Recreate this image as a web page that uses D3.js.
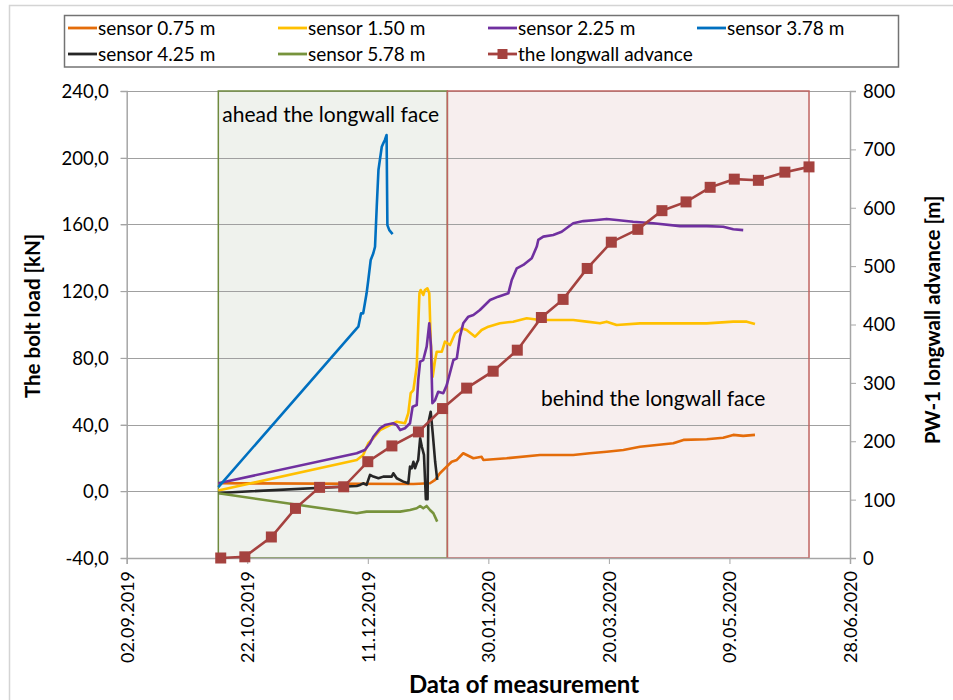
<!DOCTYPE html>
<html>
<head>
<meta charset="utf-8">
<script src="https://cdn.jsdelivr.net/npm/d3@7"></script>
<style>
  html, body { margin: 0; padding: 0; background: #fff; }
  svg { display: block; font-family: Lato, "Open Sans", sans-serif; }
</style>
</head>
<body>
<svg id="chart" width="953" height="700"></svg>
<script>
// ---------------- DATA ----------------
const xTickLabels = ["2019-09-02", "2019-10-22", "2019-12-11", "2020-01-30", "2020-03-20", "2020-05-09", "2020-06-28"];
const yLeftTicks = [-40, 0, 40, 80, 120, 160, 200, 240];
const yRightTicks = [0, 100, 200, 300, 400, 500, 600, 700, 800];

const seriesNames = ["sensor 0.75 m", "sensor 1.50 m", "sensor 2.25 m", "sensor 3.78 m", "sensor 4.25 m", "sensor 5.78 m"];
const seriesColors = ["#E46C0A", "#FFC000", "#7030A0", "#0070C0", "#262626", "#77933C"];

const sensor075 = [
  ["2019-10-10 00:00", 4.8], ["2019-12-29 22:00", 4.4], ["2020-01-05 19:00", 4.8], ["2020-01-07 22:00", 6.8],
  ["2020-01-09 22:00", 10.8], ["2020-01-12 17:00", 14.8], ["2020-01-14 19:00", 17.7], ["2020-01-16 22:00", 18.8],
  ["2020-01-19 14:00", 22.8], ["2020-01-23 19:00", 19.8], ["2020-01-27 05:00", 20.7], ["2020-01-27 22:00", 18.8],
  ["2020-02-06 14:00", 19.8], ["2020-02-20 10:00", 21.8], ["2020-03-05 05:00", 21.8], ["2020-03-12 02:00", 22.8],
  ["2020-03-19 02:00", 23.7], ["2020-03-26 00:00", 24.8], ["2020-04-01 22:00", 26.7], ["2020-04-08 19:00", 27.8],
  ["2020-04-15 17:00", 28.8], ["2020-04-19 22:00", 30.8], ["2020-04-29 14:00", 31.2], ["2020-05-06 10:00", 32.1],
  ["2020-05-10 14:00", 33.8], ["2020-05-14 17:00", 33.2], ["2020-05-19 14:00", 33.8]
];
const sensor150 = [
  ["2019-10-10 00:00", 0.5], ["2019-12-06 10:00", 18.8], ["2019-12-09 02:00", 21.8], ["2019-12-11 05:00", 28.8],
  ["2019-12-13 07:00", 31.8], ["2019-12-16 02:00", 36.7], ["2019-12-18 19:00", 38.7], ["2019-12-23 00:00", 41.7],
  ["2019-12-26 10:00", 40.8], ["2019-12-27 19:00", 46.8], ["2019-12-28 19:00", 58.8], ["2019-12-29 22:00", 60.7],
  ["2019-12-31 07:00", 74.7], ["2020-01-01 10:00", 118.7], ["2020-01-01 22:00", 120.7], ["2020-01-03 00:00", 117.7],
  ["2020-01-03 17:00", 120.7], ["2020-01-04 17:00", 121.7], ["2020-01-05 12:00", 118.7], ["2020-01-06 02:00", 90.7],
  ["2020-01-06 22:00", 68.7], ["2020-01-07 22:00", 78.7], ["2020-01-08 14:00", 83.7], ["2020-01-10 17:00", 83.7],
  ["2020-01-12 00:00", 89.7], ["2020-01-14 02:00", 87.7], ["2020-01-16 05:00", 94.7], ["2020-01-18 22:00", 97.7],
  ["2020-01-21 00:00", 96.7], ["2020-01-24 12:00", 92.7], ["2020-01-27 05:00", 96.7], ["2020-01-30 00:00", 98.7],
  ["2020-02-03 19:00", 100.7], ["2020-02-09 07:00", 101.7], ["2020-02-14 22:00", 103.7], ["2020-02-20 10:00", 102.7],
  ["2020-02-25 22:00", 102.7], ["2020-03-05 05:00", 102.7], ["2020-03-10 19:00", 101.7], ["2020-03-16 07:00", 100.7],
  ["2020-03-19 02:00", 101.7], ["2020-03-23 05:00", 99.7], ["2020-04-01 22:00", 100.7], ["2020-04-15 17:00", 100.7],
  ["2020-04-29 14:00", 100.7], ["2020-05-10 14:00", 101.7], ["2020-05-16 05:00", 101.7], ["2020-05-19 14:00", 100.3]
];
const sensor225 = [
  ["2019-10-10 00:00", 4.8], ["2019-12-06 10:00", 22.8], ["2019-12-09 19:00", 24.8], ["2019-12-11 22:00", 28.8],
  ["2019-12-13 07:00", 32.7], ["2019-12-16 02:00", 37.8], ["2019-12-18 02:00", 39.7], ["2019-12-21 14:00", 40.8],
  ["2019-12-23 00:00", 39.7], ["2019-12-24 10:00", 36.7], ["2019-12-26 10:00", 37.8], ["2019-12-28 12:00", 40.8],
  ["2019-12-29 14:00", 50.7], ["2019-12-31 07:00", 51.7], ["2019-12-31 22:00", 66.7], ["2020-01-01 17:00", 77.7],
  ["2020-01-03 00:00", 78.7], ["2020-01-04 10:00", 86.7], ["2020-01-05 12:00", 100.7], ["2020-01-06 05:00", 86.7],
  ["2020-01-06 19:00", 52.8], ["2020-01-07 22:00", 54.7], ["2020-01-09 05:00", 59.7], ["2020-01-11 07:00", 58.8],
  ["2020-01-12 17:00", 63.5], ["2020-01-15 12:00", 78.7], ["2020-01-16 22:00", 79.7], ["2020-01-18 05:00", 92.7],
  ["2020-01-19 14:00", 100.7], ["2020-01-21 17:00", 104.7], ["2020-01-23 19:00", 105.7], ["2020-01-26 12:00", 108.7],
  ["2020-01-30 17:00", 114.7], ["2020-02-03 02:00", 116.7], ["2020-02-07 07:00", 118.7], ["2020-02-08 17:00", 126.7],
  ["2020-02-10 19:00", 133.7], ["2020-02-13 12:00", 135.7], ["2020-02-17 00:00", 139.7], ["2020-02-19 02:00", 146.7],
  ["2020-02-19 17:00", 150.7], ["2020-02-21 19:00", 152.7], ["2020-02-25 22:00", 153.7], ["2020-02-29 10:00", 155.6],
  ["2020-03-03 05:00", 158.6], ["2020-03-05 05:00", 160.7], ["2020-03-09 10:00", 162.0], ["2020-03-14 22:00", 162.7],
  ["2020-03-19 02:00", 163.3], ["2020-03-23 05:00", 162.7], ["2020-03-30 02:00", 161.6], ["2020-04-07 10:00", 160.7],
  ["2020-04-18 12:00", 159.0], ["2020-04-29 14:00", 159.0], ["2020-05-06 10:00", 158.6], ["2020-05-10 14:00", 157.1],
  ["2020-05-14 17:00", 156.6]
];
const sensor378 = [
  ["2019-10-10 00:00", 2.5], ["2019-12-06 10:00", 97.7], ["2019-12-07 02:00", 98.7], ["2019-12-08 05:00", 106.7],
  ["2019-12-09 02:00", 106.7], ["2019-12-10 12:00", 118.7], ["2019-12-11 05:00", 126.7], ["2019-12-12 05:00", 138.7],
  ["2019-12-13 07:00", 142.7], ["2019-12-14 00:00", 146.6], ["2019-12-14 17:00", 170.6], ["2019-12-15 10:00", 192.6],
  ["2019-12-16 19:00", 206.6], ["2019-12-17 10:00", 208.6], ["2019-12-18 02:00", 210.6], ["2019-12-18 19:00", 213.6],
  ["2019-12-19 03:00", 159.6], ["2019-12-19 22:00", 156.6], ["2019-12-21 07:00", 154.2]
];
const sensor425 = [
  ["2019-10-10 00:00", -1.0], ["2019-12-06 10:00", 3.2], ["2019-12-07 19:00", 3.8], ["2019-12-09 02:00", 4.8],
  ["2019-12-10 12:00", 3.8], ["2019-12-11 22:00", 9.8], ["2019-12-13 07:00", 8.8], ["2019-12-15 10:00", 7.8],
  ["2019-12-17 10:00", 8.8], ["2019-12-20 22:00", 8.8], ["2019-12-21 14:00", 10.8], ["2019-12-23 00:00", 7.8],
  ["2019-12-25 17:00", 5.8], ["2019-12-27 19:00", 4.8], ["2019-12-28 12:00", 14.8], ["2019-12-29 05:00", 13.8],
  ["2019-12-29 22:00", 17.7], ["2019-12-30 14:00", 13.8], ["2019-12-31 07:00", 16.8], ["2019-12-31 22:00", 18.8],
  ["2020-01-01 17:00", 31.8], ["2020-01-02 10:00", 26.7], ["2020-01-03 07:00", 21.8], ["2020-01-04 02:00", -4.8],
  ["2020-01-04 19:00", -4.8], ["2020-01-05 02:00", 40.8], ["2020-01-06 02:00", 47.7], ["2020-01-06 22:00", 35.0],
  ["2020-01-07 22:00", 18.0], ["2020-01-08 19:00", 6.8]
];
const sensor578 = [
  ["2019-10-10 00:00", -1.2], ["2019-12-06 10:00", -13.2], ["2019-12-10 12:00", -12.2], ["2019-12-17 10:00", -12.2],
  ["2019-12-24 10:00", -12.2], ["2019-12-28 12:00", -11.2], ["2019-12-31 07:00", -10.2], ["2020-01-01 17:00", -8.8],
  ["2020-01-03 00:00", -10.2], ["2020-01-04 10:00", -8.8], ["2020-01-05 19:00", -11.2], ["2020-01-07 05:00", -13.2],
  ["2020-01-08 19:00", -18.2]
];

const longwallDates = ["2019-10-11", "2019-10-21", "2019-11-01", "2019-11-11", "2019-11-21", "2019-12-01", "2019-12-11",
  "2019-12-21", "2020-01-01", "2020-01-11", "2020-01-21", "2020-02-01", "2020-02-11", "2020-02-21", "2020-03-01",
  "2020-03-11", "2020-03-21", "2020-04-01", "2020-04-11", "2020-04-21", "2020-05-01", "2020-05-11", "2020-05-21",
  "2020-06-01", "2020-06-11"];
const longwallAdvance = [0, 2, 36, 85, 121, 122, 165, 192, 216, 256, 291, 320, 356, 412, 443, 496, 541, 563, 595,
  610, 635, 649, 647, 661, 670];

const zones = [
  { label: "ahead the longwall face", start: "2019-10-10", end: "2020-01-13" },
  { label: "behind the longwall face", start: "2020-01-13", end: "2020-06-11" }
];

// ---------------- CHART ----------------
const parseT = d3.timeParse("%Y-%m-%d %H:%M");
const parseD = d3.timeParse("%Y-%m-%d");
const P = s => s.length > 10 ? parseT(s) : parseD(s);

const svg = d3.select("#chart");
const L = 126.7, R = 850, T = 91, B = 558;

const x = d3.scaleTime().domain([P("2019-09-02"), P("2020-06-28")]).range([L, R]);
const y = d3.scaleLinear().domain([-40, 240]).range([B, T]);
const y2 = d3.scaleLinear().domain([0, 800]).range([B, T]);

const loc = d3.formatLocale({ decimal: ",", thousands: ".", grouping: [3], currency: ["", ""], minus: "-" });
const fmtL = loc.format(".1f");
const fmtDate = d3.timeFormat("%d.%m.%Y");

// outer frame
svg.append("path").attr("d", "M9.5,700 V5.5 H953").attr("fill", "none").attr("stroke", "#d4d4d4").attr("stroke-width", 1.5);

// zone rectangles
const zoneFill = ["#eff2ed", "#f7eeee"];
const zoneStroke = ["#6f8a3f", "#c06461"];
zones.forEach((z, i) => {
  svg.append("rect")
    .attr("x", x(P(z.start))).attr("y", T)
    .attr("width", x(P(z.end)) - x(P(z.start))).attr("height", B - T)
    .attr("fill", zoneFill[i]);
});

// gridlines
svg.append("g").selectAll("line").data(yLeftTicks.filter(v => v !== -40)).join("line")
  .attr("x1", L - 6).attr("x2", R)
  .attr("y1", d => Math.round(y(d)) + 0.5).attr("y2", d => Math.round(y(d)) + 0.5)
  .attr("stroke", "#a0a0a0").attr("stroke-width", 1);

zones.forEach((z, i) => {
  svg.append("rect")
    .attr("x", x(P(z.start))).attr("y", T)
    .attr("width", x(P(z.end)) - x(P(z.start))).attr("height", B - T)
    .attr("fill", "none").attr("stroke", zoneStroke[i]).attr("stroke-width", 1.5);
});

// axes
const axisColor = "#a6a6a6";
const gL = svg.append("g").attr("transform", `translate(${L},0)`)
  .call(d3.axisLeft(y).tickValues(yLeftTicks).tickSize(6).tickFormat(fmtL));
const gR = svg.append("g").attr("transform", `translate(${R},0)`)
  .call(d3.axisRight(y2).tickValues(yRightTicks).tickSize(6).tickFormat(d3.format("d")));
const gB = svg.append("g").attr("transform", `translate(0,${B})`)
  .call(d3.axisBottom(x).tickValues(xTickLabels.map(P)).tickSize(6).tickFormat(fmtDate));

[gL, gR, gB].forEach(g => {
  g.select(".domain").attr("stroke", axisColor).attr("stroke-width", 1.5);
  g.selectAll(".tick line").attr("stroke", axisColor);
  g.selectAll("text").attr("fill", "#000").style("font-size", "18.5px").style("font-family", "Lato, sans-serif");
});
gL.selectAll("text").attr("x", -18).attr("dy", "0.35em");
gR.selectAll("text").attr("x", 13).attr("dy", "0.35em");
gB.selectAll("text")
  .style("font-size", "18px")
  .attr("transform", "rotate(-90)")
  .attr("text-anchor", "end")
  .attr("x", -13).attr("y", 0).attr("dy", "0.36em");

// axis titles
svg.append("text").attr("transform", "translate(40,316) rotate(-90)")
  .attr("text-anchor", "middle").style("font-size", "20.5px").style("font-weight", "bold")
  .text("The bolt load [kN]");
svg.append("text").attr("transform", "translate(940,320) rotate(-90)")
  .attr("text-anchor", "middle").style("font-size", "20.5px").style("font-weight", "bold")
  .text("PW-1 longwall advance [m]");
svg.append("text").attr("x", 524).attr("y", 693)
  .attr("text-anchor", "middle").style("font-size", "24px").style("font-weight", "bold")
  .text("Data of measurement");

// zone labels
svg.append("text").attr("x", x(P(zones[0].start)) + 4).attr("y", 122)
  .style("font-size", "21px").text(zones[0].label);
svg.append("text").attr("x", 541).attr("y", 406)
  .style("font-size", "21px").text(zones[1].label);

// sensor lines
const allSensors = [sensor075, sensor150, sensor225, sensor378, sensor425, sensor578];
const line = d3.line().x(d => x(P(d[0]))).y(d => y(d[1]));
allSensors.forEach((s, i) => {
  svg.append("path").datum(s).attr("d", line)
    .attr("fill", "none").attr("stroke", seriesColors[i]).attr("stroke-width", 2.6)
    .attr("stroke-linejoin", "round");
});

// longwall advance
const lwColor = "#a5423f";
const lw = longwallDates.map((d, i) => [P(d), longwallAdvance[i]]);
svg.append("path").datum(lw)
  .attr("d", d3.line().x(d => x(d[0])).y(d => y2(d[1])))
  .attr("fill", "none").attr("stroke", lwColor).attr("stroke-width", 2.6);
svg.append("g").selectAll("rect").data(lw).join("rect")
  .attr("x", d => x(d[0]) - 5.5).attr("y", d => y2(d[1]) - 5.5)
  .attr("width", 11).attr("height", 11).attr("fill", lwColor);

// legend
svg.append("rect").attr("x", 64.5).attr("y", 15.5).attr("width", 834).attr("height", 51.5)
  .attr("fill", "#fff").attr("stroke", "#737373").attr("stroke-width", 1.5);
const legendItems = seriesNames.map((n, i) => ({ name: n, color: seriesColors[i], marker: false }))
  .concat([{ name: "the longwall advance", color: lwColor, marker: true }]);
const colX = [68, 278, 488, 697];
const rowY = [28, 54];
legendItems.forEach((it, i) => {
  const cx = colX[i % 4], cy = rowY[Math.floor(i / 4)];
  const g = svg.append("g");
  g.append("line").attr("x1", cx).attr("x2", cx + 29).attr("y1", cy).attr("y2", cy)
    .attr("stroke", it.color).attr("stroke-width", 2.8);
  if (it.marker) {
    g.append("rect").attr("x", cx + 9.5).attr("y", cy - 5).attr("width", 10).attr("height", 10).attr("fill", it.color);
  }
  g.append("text").attr("x", cx + 30).attr("y", cy).attr("dy", "0.35em")
    .style("font-size", "19px").text(it.name);
});
</script>
</body>
</html>
